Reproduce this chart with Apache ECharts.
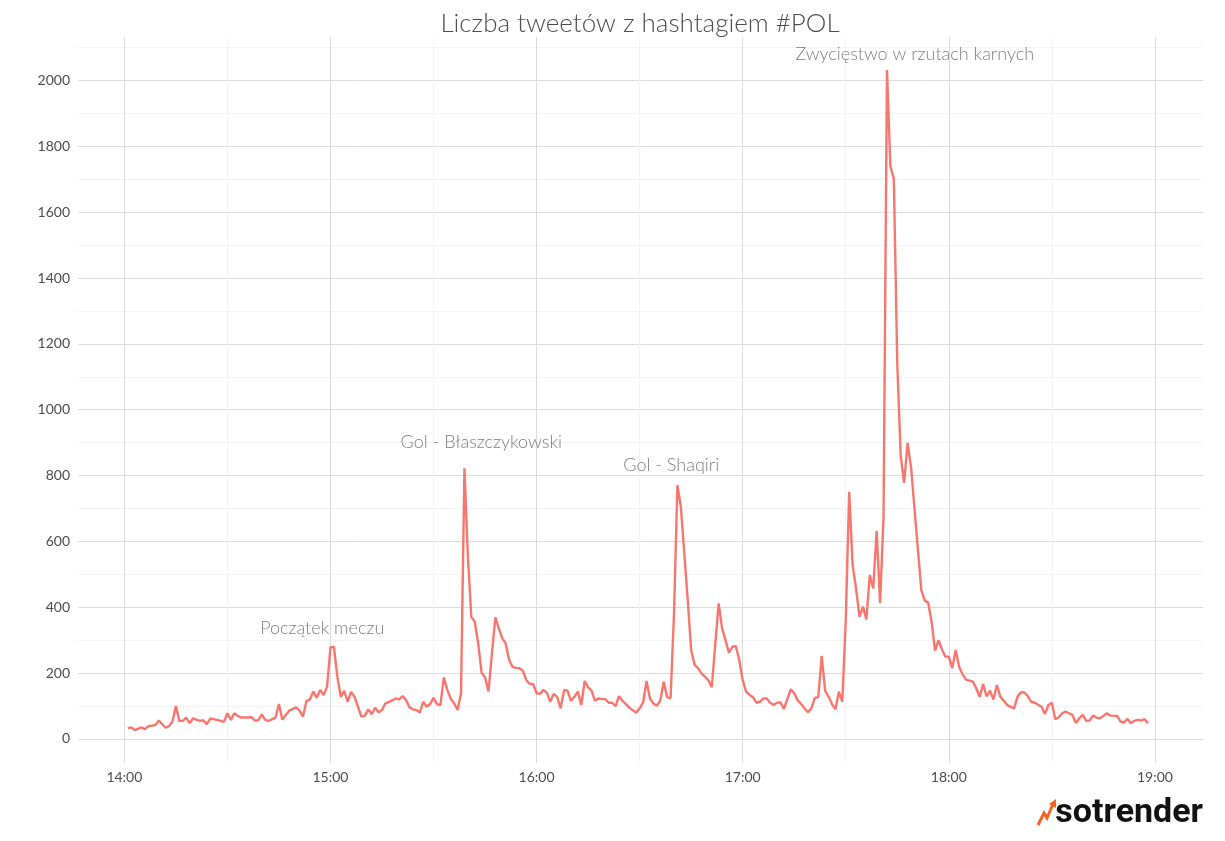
<!DOCTYPE html>
<html>
<head>
<meta charset="utf-8">
<script src="https://cdn.jsdelivr.net/npm/echarts@6/dist/echarts.min.js"></script>
<style>html,body{margin:0;padding:0;background:#fff}#c{width:1225px;height:841px}</style>
</head>
<body>
<div id="c"></div>
<script>
// minutes after 14:00
const minutes = [1,2,3,5,6,7,9,10,12,13,14,15,16,17,18,19,20,21,22,23,24,25,27,28,29,30,31,32,33,34,36,37,38,39,40,41,42,44,45,46,47,48,50,51,52,53,54,55,56,57,58,59,60,61,
62,63,64,65,66,67,68,69,70,71,72,73,74,75,76,77,79,80,81,82,83,84,85,86,87,88,89,90,91,92,93,94,95,96,97,98,99,100,101,102,103,104,105,106,107,108,109,110,111,112,113,114,115,116,117,118,119,120,121,122,123,124,125,126,127,128,129,130,131,132,133,134,135,136,137,138,139,140,141,142,143,144,145,146,147,149,150,151,152,153,154,155,156,157,158,159,160,161,162,163,164,165,166,167,168,169,170,171,172,173,174,175,176,177,178,179,180,181,182,183,184,185,186,187,188,189,190,191,192,193,194,195,196,197,198,199,200,201,202,203,204,205,206,207,208,209,210,211,212,213,214,215,216,217,218,219,220,221,222,223,224,225,226,227,228,229,232,233,234,235,236,237,238,239,240,241,242,243,244,245,247,248,249,250,251,252,253,254,255,256,257,259,260,261,262,263,264,265,267,268,269,270,271,272,273,274,275,276,277,278,279,280,281,282,283,284,285,286,287,289,290,291,292,293,294,295,296,297,298];
const tweets = [32,35,27,35,30,39,42,56,34,39,53,100,55,55,65,48,63,58,55,57,45,62,58,55,52,78,58,78,70,65,65,66,56,57,75,58,55,65,106,58,73,86,96,86,68,115,120,144,125,149,133,159,278,280,
189,128,146,113,143,128,98,68,70,90,75,95,81,88,108,112,123,120,130,118,96,90,88,80,113,98,106,125,106,103,187,149,123,108,88,139,822,553,371,356,290,201,187,144,260,369,336,306,290,240,219,216,215,207,179,167,167,139,137,149,140,113,137,127,93,149,147,116,128,144,103,176,157,147,116,123,121,121,110,110,100,130,116,106,95,80,93,110,176,123,108,101,116,174,127,123,381,771,705,564,422,270,225,215,199,189,179,157,285,412,336,300,262,280,282,240,179,144,134,127,110,113,123,123,110,103,110,111,91,121,151,139,118,106,93,81,93,125,127,252,147,128,106,90,144,113,360,751,528,457,371,402,363,498,457,632,412,675,2032,1739,1701,1140,860,778,899,826,452,420,414,356,268,300,272,250,250,215,270,220,196,180,174,154,128,167,129,147,120,164,128,116,103,93,128,142,141,130,113,110,98,76,103,110,60,66,78,83,78,73,48,63,73,55,56,71,65,63,70,78,71,70,53,50,61,48,55,58,56,60,48];

const hourTicks = [0, 60, 120, 180, 240, 300];
const hourLabels = ['14:00', '15:00', '16:00', '17:00', '18:00', '19:00'];
const xGridValues = [0, 30, 60, 90, 120, 150, 180, 210, 240, 270, 300];
const yLabelValues = [0, 200, 400, 600, 800, 1000, 1200, 1400, 1600, 1800, 2000];
const yGridValues = [0,100,200,300,400,500,600,700,800,900,1000,1100,1200,1300,1400,1500,1600,1700,1800,1900,2000,2100];

const annotationTexts = ['Początek meczu', 'Gol - Błaszczykowski', 'Gol - Shaqiri', 'Zwycięstwo w rzutach karnych'];
const annotationMinutes = [57.6, 103.9, 159.2, 230.1];
const annotationValues = [337, 901, 832, 2079];

const chart = echarts.init(document.getElementById('c'), null, {renderer: 'canvas'});
const FONT = 'Lato, "Noto Sans", sans-serif';
const MAJOR = '#dcdcdc', MINOR = '#f3f3f3';

chart.setOption({
  animation: false,
  backgroundColor: '#ffffff',
  grid: {left: 78, right: 22, top: 37, bottom: 78, containLabel: false},
  xAxis: {
    type: 'value', min: -13.5, max: 314,
    axisLine: {show: false},
    axisTick: {show: false, customValues: xGridValues},
    axisLabel: {
      customValues: hourTicks, margin: 7,
      fontFamily: FONT, fontSize: 14, color: '#4d4d4d',
      formatter: v => hourLabels[hourTicks.indexOf(v)] || ''
    },
    splitLine: {show: true, lineStyle: {color: [MAJOR, MINOR], width: 1}}
  },
  yAxis: {
    type: 'value', min: -73, max: 2132,
    axisLine: {show: false},
    axisTick: {show: false, customValues: yGridValues},
    axisLabel: {customValues: yLabelValues, margin: 8, fontFamily: FONT, fontSize: 14, color: '#4d4d4d',
      formatter: v => String(v)},
    splitLine: {show: true, lineStyle: {color: [MAJOR, MINOR], width: 1}}
  },
  series: [
    {
      type: 'line',
      data: minutes.map((m, i) => [m, tweets[i]]),
      showSymbol: false, symbol: 'none',
      lineStyle: {color: '#F8766D', width: 2.4},
      itemStyle: {color: '#F8766D'},
      z: 3
    },
    {
      type: 'scatter',
      data: annotationTexts.map((t, i) => ({name: t, value: [annotationMinutes[i], annotationValues[i]]})),
      symbolSize: 1,
      itemStyle: {color: 'rgba(0,0,0,0)'},
      label: {
        show: true, position: 'inside', formatter: p => p.name,
        fontFamily: FONT, fontSize: 18, fontWeight: 300, color: '#5c5c5c'
      },
      z: 4
    }
  ],
  graphic: [
    {
      type: 'text', z: 10, x: 640, y: 24,
      style: {text: 'Liczba tweetów z hashtagiem #POL', font: '300 26px Lato, "Noto Sans", sans-serif',
        fill: '#4d4d4d', align: 'center', verticalAlign: 'middle'}
    },
    {
      type: 'polyline', z: 10,
      shape: {points: [[1038, 825], [1044, 813], [1047, 818], [1053, 804]]},
      style: {stroke: '#f26522', lineWidth: 3, fill: null}
    },
    {
      type: 'polygon', z: 10,
      shape: {points: [[1049, 804], [1056, 799], [1056, 808]]},
      style: {fill: '#f26522'}
    },
    {
      type: 'text', z: 10, right: 22, top: 796,
      style: {text: 'sotrender', font: 'bold 34px Roboto, "Open Sans", sans-serif', fill: '#111111'}
    }
  ]
});
</script>
</body>
</html>
